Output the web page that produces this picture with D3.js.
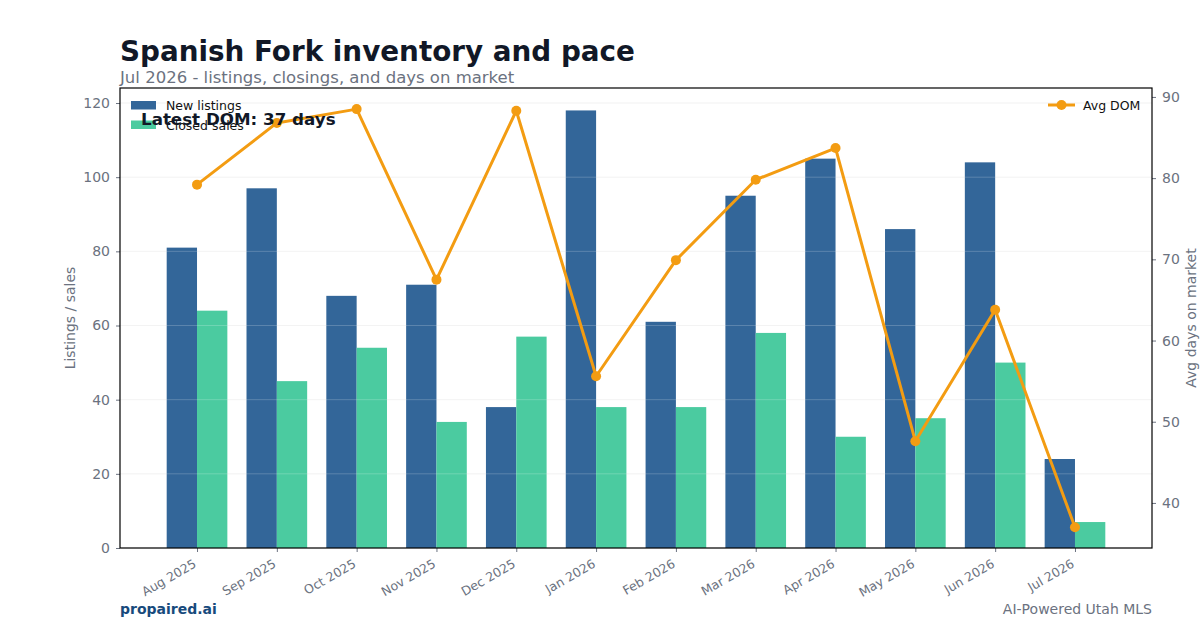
<!DOCTYPE html>
<html>
<head>
<meta charset="utf-8">
<script src="https://cdn.jsdelivr.net/npm/d3@7"></script>
<style>
  body { margin: 0; background: #fff; }
  svg { font-family: "DejaVu Sans", sans-serif; display: block; }
</style>
</head>
<body>
<div id="chart"></div>
<script>
// data
var months = ["Aug 2025", "Sep 2025", "Oct 2025", "Nov 2025", "Dec 2025", "Jan 2026",
              "Feb 2026", "Mar 2026", "Apr 2026", "May 2026", "Jun 2026", "Jul 2026"];
var newListings = [81, 97, 68, 71, 38, 118, 61, 95, 105, 86, 104, 24];
var closedSales = [64, 45, 54, 34, 57, 38, 38, 58, 30, 35, 50, 7];
var avgDom = [79.2, 86.8, 88.5, 67.5, 88.3, 55.6, 69.9, 79.8, 83.7, 47.6, 63.8, 37.0];
var leftTicks = [0, 20, 40, 60, 80, 100, 120];
var rightTicks = [40, 50, 60, 70, 80, 90];

var W = 1200, H = 630;
var plot = { left: 120, right: 1152, top: 88, bottom: 548 };
var gray = "#6b7280";
var cNew = "#336699", cClosed = "#4bcba0", cLine = "#f39c12";

var svg = d3.select("#chart").append("svg")
    .attr("width", W).attr("height", H);

// scales
var x = d3.scalePoint().domain(months)
    .range([plot.left, plot.right]).padding(0.965);
var barW = x.step() * 0.38;
var y = d3.scaleLinear().domain([0, 124.05]).range([plot.bottom, plot.top]);
var y2 = d3.scaleLinear().domain([34.45, 91.1]).range([plot.bottom, plot.top]);

// grid
svg.append("g").selectAll("line")
    .data(leftTicks).enter().append("line")
    .attr("x1", plot.left).attr("x2", plot.right)
    .attr("y1", d => y(d)).attr("y2", d => y(d))
    .attr("stroke", "#eeeeee").attr("stroke-width", 0.8);

// bars
svg.append("g").selectAll("rect")
    .data(newListings).enter().append("rect")
    .attr("x", (d, i) => x(months[i]) - barW)
    .attr("y", d => y(d))
    .attr("width", barW)
    .attr("height", d => y(0) - y(d))
    .attr("fill", cNew);

svg.append("g").selectAll("rect")
    .data(closedSales).enter().append("rect")
    .attr("x", (d, i) => x(months[i]))
    .attr("y", d => y(d))
    .attr("width", barW)
    .attr("height", d => y(0) - y(d))
    .attr("fill", cClosed);

// grid over bars (faint, like the reference)
svg.append("g").selectAll("line")
    .data(leftTicks.slice(1)).enter().append("line")
    .attr("x1", plot.left).attr("x2", plot.right)
    .attr("y1", d => y(d)).attr("y2", d => y(d))
    .attr("stroke", "#ffffff").attr("stroke-opacity", 0.25).attr("stroke-width", 0.8);

// DOM line
var line = d3.line()
    .x((d, i) => x(months[i]))
    .y(d => y2(d));
svg.append("path")
    .datum(avgDom)
    .attr("d", line)
    .attr("fill", "none")
    .attr("stroke", cLine)
    .attr("stroke-width", 3)
    .attr("stroke-linejoin", "round");
svg.append("g").selectAll("circle")
    .data(avgDom).enter().append("circle")
    .attr("cx", (d, i) => x(months[i]))
    .attr("cy", d => y2(d))
    .attr("r", 5)
    .attr("fill", cLine);

// axes
var axL = svg.append("g")
    .attr("transform", "translate(" + plot.left + ",0)")
    .call(d3.axisLeft(y).tickValues(leftTicks).tickSize(4).tickPadding(6));
var axR = svg.append("g")
    .attr("transform", "translate(" + plot.right + ",0)")
    .call(d3.axisRight(y2).tickValues(rightTicks).tickSize(4).tickPadding(6));
var axB = svg.append("g")
    .attr("transform", "translate(0," + plot.bottom + ")")
    .call(d3.axisBottom(x).tickSize(4).tickPadding(4));

[axL, axR, axB].forEach(function(g) {
    g.select(".domain").remove();
    g.selectAll(".tick line").attr("stroke", gray);
    g.selectAll(".tick text")
        .attr("fill", gray)
        .style("font-family", "DejaVu Sans")
        .style("font-size", "14px");
});
axB.selectAll(".tick text")
    .style("font-size", "12.5px")
    .attr("text-anchor", "end")
    .attr("x", 0)
    .attr("y", 6)
    .attr("dx", "0")
    .attr("dy", "0.75em")
    .attr("transform", "translate(-8,5) rotate(-30)");

// frame
svg.append("rect")
    .attr("x", plot.left).attr("y", plot.top)
    .attr("width", plot.right - plot.left)
    .attr("height", plot.bottom - plot.top)
    .attr("fill", "none").attr("stroke", "#000").attr("stroke-width", 1.2);

// axis titles
svg.append("text")
    .attr("transform", "translate(75," + ((plot.top + plot.bottom) / 2) + ") rotate(-90)")
    .attr("text-anchor", "middle")
    .attr("fill", gray).style("font-size", "14px")
    .text("Listings / sales");
svg.append("text")
    .attr("transform", "translate(1196," + ((plot.top + plot.bottom) / 2) + ") rotate(-90)")
    .attr("text-anchor", "middle")
    .attr("fill", gray).style("font-size", "14px")
    .text("Avg days on market");

// legend left
var legL = svg.append("g");
[["New listings", cNew], ["Closed sales", cClosed]].forEach(function(d, i) {
    legL.append("rect")
        .attr("x", 131).attr("y", 101 + i * 19.5)
        .attr("width", 25).attr("height", 8.5)
        .attr("fill", d[1]);
    legL.append("text")
        .attr("x", 166).attr("y", 110 + i * 19.5)
        .attr("fill", "#111").style("font-size", "12.5px")
        .text(d[0]);
});

// legend right
var legR = svg.append("g");
legR.append("line")
    .attr("x1", 1048).attr("x2", 1075).attr("y1", 105).attr("y2", 105)
    .attr("stroke", cLine).attr("stroke-width", 3);
legR.append("circle").attr("cx", 1061.5).attr("cy", 105).attr("r", 5).attr("fill", cLine);
legR.append("text")
    .attr("x", 1083).attr("y", 110)
    .attr("fill", "#111").style("font-size", "12.5px")
    .text("Avg DOM");

// annotation
svg.append("text")
    .attr("x", 141).attr("y", 125)
    .attr("fill", "#111827")
    .style("font-size", "16.7px").style("font-weight", "bold")
    .text("Latest DOM: " + Math.round(avgDom[avgDom.length - 1]) + " days");

// titles
svg.append("text")
    .attr("x", 120).attr("y", 61)
    .attr("fill", "#111827")
    .style("font-size", "27.8px").style("font-weight", "bold")
    .text("Spanish Fork inventory and pace");
svg.append("text")
    .attr("x", 120).attr("y", 83)
    .attr("fill", gray)
    .style("font-size", "16.5px")
    .text("Jul 2026 - listings, closings, and days on market");

// footer
svg.append("text")
    .attr("x", 120).attr("y", 614)
    .attr("fill", "#174a7c")
    .style("font-size", "14px").style("font-weight", "bold")
    .text("propaired.ai");
svg.append("text")
    .attr("x", 1152).attr("y", 614)
    .attr("text-anchor", "end")
    .attr("fill", gray)
    .style("font-size", "14px")
    .text("AI-Powered Utah MLS");
</script>
</body>
</html>
